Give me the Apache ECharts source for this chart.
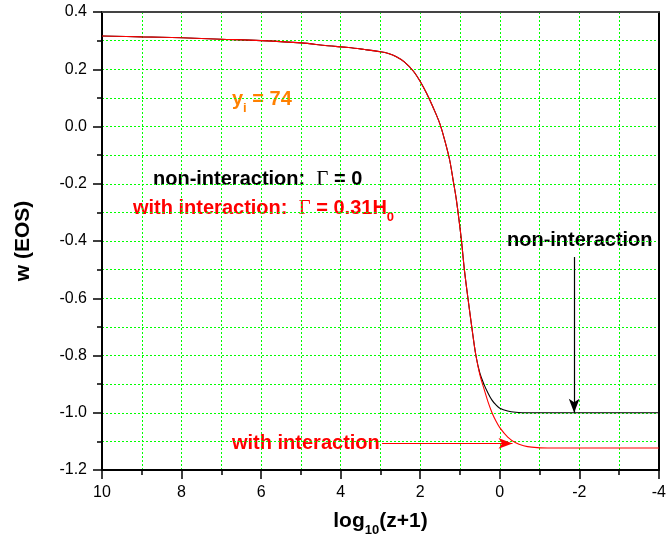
<!DOCTYPE html>
<html>
<head>
<meta charset="utf-8">
<script src="https://cdn.jsdelivr.net/npm/echarts@6/dist/echarts.min.js"></script>
<style>
  html, body { margin: 0; padding: 0; background: #fff; }
  #main { width: 669px; height: 548px; }
</style>
</head>
<body>
<div id="main"></div>
<script>
// 数据
var xShared = [10, 9, 8, 7, 6, 5, 4.33, 3.8, 3.4, 3.0, 2.8, 2.6, 2.4, 2.17, 2, 1.84, 1.68, 1.51, 1.38, 1.26, 1.17, 1.09, 0.97, 0.89, 0.8, 0.68, 0.6];
var wShared = [0.316, 0.313, 0.310, 0.305, 0.300, 0.292, 0.282, 0.276, 0.269, 0.261, 0.255, 0.244, 0.226, 0.193, 0.157, 0.116, 0.068, 0.011, -0.05, -0.117, -0.19, -0.257, -0.39, -0.50, -0.60, -0.725, -0.80];
var xBlackTail = [0.5, 0.4, 0.3, 0.2, 0.1, 0, -0.2, -0.4, -0.7, -1, -2, -3, -4];
var wBlackTail = [-0.862, -0.90, -0.93, -0.955, -0.972, -0.984, -0.994, -0.998, -1.0, -1.0, -1.0, -1.0, -1.0];
var xRedTail = [0.5, 0.4, 0.3, 0.2, 0.1, 0, -0.2, -0.4, -0.6, -0.8, -1.2, -2, -3, -4];
var wRedTail = [-0.868, -0.915, -0.96, -0.998, -1.028, -1.052, -1.085, -1.105, -1.115, -1.12, -1.123, -1.123, -1.123, -1.123];
// arrows
var blackArrow = [[-1.87, -0.456], [-1.87, -1.0]];
var redArrow = [[2.96, -1.107], [-0.32, -1.107]];

function pairs(xs, ys) {
  var out = [];
  for (var i = 0; i < xs.length; i++) out.push([xs[i], ys[i]]);
  return out;
}
var blackData = pairs(xShared, wShared).concat(pairs(xBlackTail, wBlackTail));
var redData = pairs(xShared, wShared).concat(pairs(xRedTail, wRedTail));

var font = "'Liberation Sans', Arial, sans-serif";
var serif = "'Liberation Serif', 'Times New Roman', serif";
var gridLine = { color: '#00ff00', width: 1, type: [2, 2] };

// 下标 style helper
function subStyle(color) {
  return { fontFamily: font, fontSize: 13, fontWeight: 'bold', color: color, fill: color, lineHeight: 14, padding: [18, 0, 0, 0] };
}
function mainStyle(color, size) {
  return { fontFamily: font, fontSize: size, fontWeight: 'bold', color: color, fill: color, lineHeight: 24 };
}

var myChart = echarts.init(document.getElementById('main'));
var option = {
  animation: false,
  grid: { left: 102, right: 4, top: 12, bottom: 78 },
  xAxis: [{
    type: 'value', min: -4, max: 10, interval: 2, inverse: true,
    name: '{b|log}{s|10}{b|(z+1)}', nameLocation: 'middle', nameGap: 38,
    nameTextStyle: {
      rich: { b: mainStyle('#000', 21), s: subStyle('#000') }
    },
    axisLine: { onZero: false, lineStyle: { color: '#000', width: 2 } },
    axisTick: { inside: false, length: 9, lineStyle: { color: '#000', width: 1.5 } },
    minorTick: { show: true, splitNumber: 2, length: 5, lineStyle: { color: '#000', width: 1.5 } },
    axisLabel: { margin: 15, color: '#000', fontSize: 16, fontFamily: font },
    splitLine: { show: true, lineStyle: gridLine },
    minorSplitLine: { show: true, lineStyle: gridLine }
  }, {
    type: 'value', min: -4, max: 10, inverse: true, position: 'top',
    axisLine: { onZero: false, lineStyle: { color: '#444', width: 2 } },
    axisTick: { show: false }, axisLabel: { show: false }, splitLine: { show: false }
  }],
  yAxis: [{
    type: 'value', min: -1.2, max: 0.4, interval: 0.2,
    name: 'w (EOS)', nameLocation: 'middle', nameGap: 68,
    nameTextStyle: { fontFamily: font, fontSize: 21, fontWeight: 'bold', color: '#000' },
    axisLine: { onZero: false, lineStyle: { color: '#000', width: 2 } },
    axisTick: { inside: false, length: 9, lineStyle: { color: '#000', width: 1.5 } },
    minorTick: { show: true, splitNumber: 2, length: 5, lineStyle: { color: '#000', width: 1.5 } },
    axisLabel: {
      margin: 15, color: '#000', fontSize: 16, fontFamily: font,
      formatter: function (v) { return v.toFixed(1); }
    },
    splitLine: { show: true, lineStyle: gridLine },
    minorSplitLine: { show: true, lineStyle: gridLine }
  }, {
    type: 'value', min: -1.2, max: 0.4, position: 'right',
    axisLine: { onZero: false, lineStyle: { color: '#000', width: 2 } },
    axisTick: { show: false }, axisLabel: { show: false }, splitLine: { show: false }
  }],
  series: [
    {
      name: 'non-interaction', type: 'line', data: blackData,
      showSymbol: false, smooth: 0.35,
      lineStyle: { color: '#000', width: 1.1 },
      markLine: {
        silent: true, symbol: ['none', 'arrow'], symbolSize: [8, 14],
        label: { show: false },
        lineStyle: { color: '#000', width: 1.2, type: 'solid' },
        data: [[{ coord: blackArrow[0] }, { coord: blackArrow[1] }]]
      }
    },
    {
      name: 'with interaction', type: 'line', data: redData,
      showSymbol: false, smooth: 0.35,
      lineStyle: { color: '#ff0000', width: 1.1 },
      markLine: {
        silent: true, symbol: ['none', 'arrow'], symbolSize: [8, 14],
        label: { show: false },
        lineStyle: { color: '#ff0000', width: 1.2, type: 'solid' },
        data: [[{ coord: redArrow[0] }, { coord: redArrow[1] }]]
      }
    }
  ],
  graphic: [
    {
      type: 'text', x: 232, y: 87,
      style: {
        text: '{b|y}{s|i}{b| = 74}', textVerticalAlign: 'top',
        rich: { b: mainStyle('#ff8000', 20), s: subStyle('#ff8000') }
      }
    },
    {
      type: 'text', x: 153, y: 167,
      style: {
        text: '{b|non-interaction:  }{g|Γ}{b| = 0}', textVerticalAlign: 'top',
        rich: {
          b: mainStyle('#000', 20),
          g: { fontFamily: serif, fontSize: 21, fill: '#000', lineHeight: 24 }
        }
      }
    },
    {
      type: 'text', x: 133, y: 196,
      style: {
        text: '{b|with interaction:  }{g|Γ}{b| = 0.31H}{s|0}', textVerticalAlign: 'top',
        rich: {
          b: mainStyle('#ff0000', 20),
          g: { fontFamily: serif, fontSize: 21, fill: '#ff0000', lineHeight: 24 },
          s: subStyle('#ff0000')
        }
      }
    },
    {
      type: 'text', x: 507, y: 240,
      style: { text: 'non-interaction', font: 'bold 20px ' + font, fill: '#000', textVerticalAlign: 'middle' }
    },
    {
      type: 'text', x: 232, y: 443,
      style: { text: 'with interaction', font: 'bold 20px ' + font, fill: '#ff0000', textVerticalAlign: 'middle' }
    }
  ]
};
myChart.setOption(option);
</script>
</body>
</html>
